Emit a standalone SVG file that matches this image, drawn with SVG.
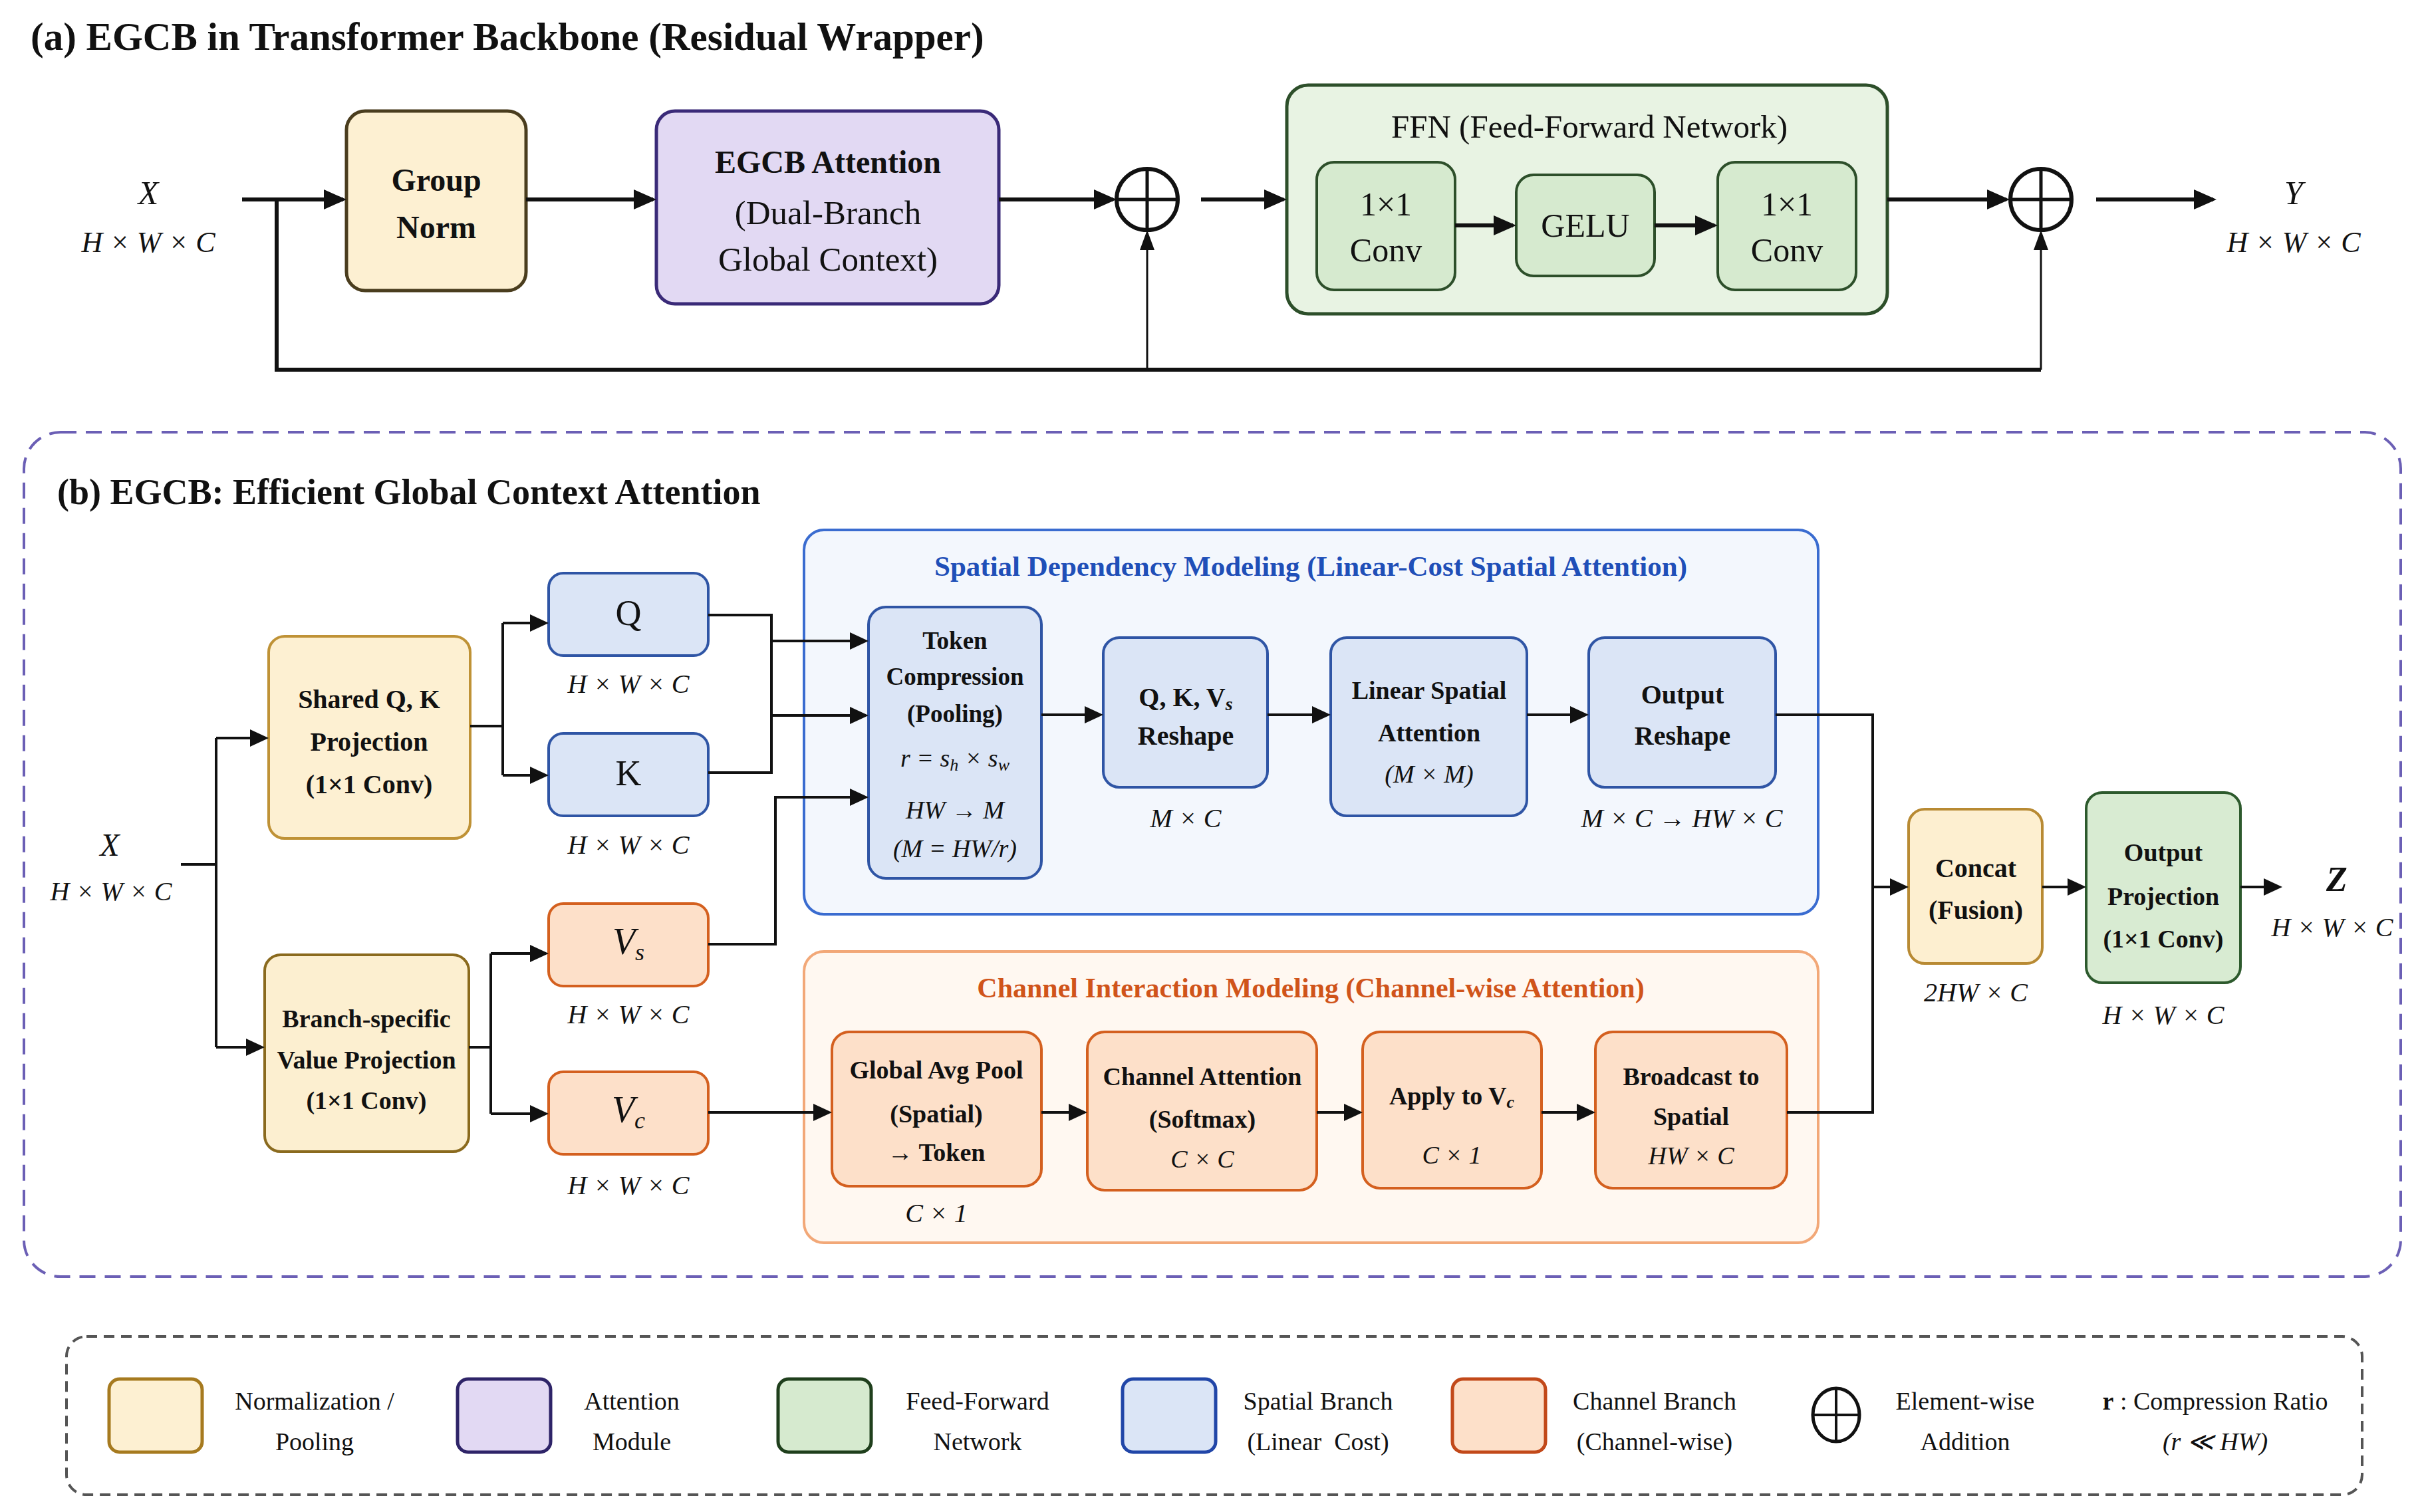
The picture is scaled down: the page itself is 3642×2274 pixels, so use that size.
<svg xmlns="http://www.w3.org/2000/svg" width="3642" height="2274" viewBox="0 0 3642 2274">
<style>
.t{font-family:"Liberation Serif","Times New Roman",serif;fill:#111;text-anchor:middle;dominant-baseline:central}
.b{font-weight:bold}
.i{font-style:italic}
.s{text-anchor:start}
.ln{fill:none;stroke:#111;stroke-width:4}
.lt{fill:none;stroke:#111;stroke-width:6}
.lv{fill:none;stroke:#111;stroke-width:3}
.yel{fill:#fdf0d2;stroke:#bf9236;stroke-width:4}
.pur{fill:#e2d9f3;stroke:#3a2a78;stroke-width:5}
.grn{fill:#d6eacf;stroke:#2d4f2a;stroke-width:4}
.blu{fill:#dbe5f6;stroke:#2f55a5;stroke-width:4}
.org{fill:#fde0c9;stroke:#d4601f;stroke-width:4}
.dim{font-size:40px}
</style>
<defs>
<marker id="ah" markerUnits="userSpaceOnUse" markerWidth="34" markerHeight="34" viewBox="0 0 34 34" refX="29" refY="17" orient="auto"><path d="M0,2 L34,17 L0,32 Z" fill="#111"/></marker>
<marker id="ab" markerUnits="userSpaceOnUse" markerWidth="28" markerHeight="26" viewBox="0 0 28 26" refX="24" refY="13" orient="auto"><path d="M0,0 L28,13 L0,26 Z" fill="#111"/></marker>
<marker id="av" markerUnits="userSpaceOnUse" markerWidth="30" markerHeight="22" viewBox="0 0 30 22" refX="26" refY="11" orient="auto"><path d="M0,0 L30,11 L0,22 Z" fill="#111"/></marker>
</defs>
<rect width="3642" height="2274" fill="#ffffff"/>

<!-- ===== (a) ===== -->
<text x="46" y="55" class="t b s" font-size="59">(a) EGCB in Transformer Backbone (Residual Wrapper)</text>

<g id="a-input">
<text x="223" y="290" class="t i" font-size="50">X</text>
<text x="223" y="364" class="t i" font-size="44">H × W × C</text>
</g>
<g id="a-groupnorm">
<rect x="521" y="167" width="270" height="270" rx="28" fill="#fdf0d2" stroke="#4a3d1e" stroke-width="5"/>
<text x="656" y="270" class="t b" font-size="48">Group</text>
<text x="656" y="341" class="t b" font-size="48">Norm</text>
</g>
<g id="a-egcb">
<rect x="987" y="167" width="515" height="290" rx="28" class="pur"/>
<text x="1245" y="243" class="t b" font-size="48">EGCB Attention</text>
<text x="1245" y="320" class="t" font-size="51">(Dual-Branch</text>
<text x="1245" y="390" class="t" font-size="51">Global Context)</text>
</g>
<g id="a-add1">
<circle cx="1725" cy="300" r="46" fill="#fff" stroke="#111" stroke-width="6"/>
<path d="M1679,300 H1771 M1725,254 V346" stroke="#111" stroke-width="5"/>
</g>
<g id="a-ffn">
<rect x="1935" y="128" width="903" height="344" rx="32" fill="#e8f3e3" stroke="#2d4f2a" stroke-width="5"/>
<text x="2390" y="190" class="t" font-size="49">FFN (Feed-Forward Network)</text>
</g>
<g id="a-conv1">
<rect x="1980" y="244" width="208" height="192" rx="26" class="grn"/>
<text x="2084" y="307" class="t" font-size="50">1×1</text>
<text x="2084" y="376" class="t" font-size="50">Conv</text>
</g>
<g id="a-gelu">
<rect x="2280" y="263" width="208" height="152" rx="26" class="grn"/>
<text x="2384" y="339" class="t" font-size="50">GELU</text>
</g>
<g id="a-conv2">
<rect x="2583" y="244" width="208" height="192" rx="26" class="grn"/>
<text x="2687" y="307" class="t" font-size="50">1×1</text>
<text x="2687" y="376" class="t" font-size="50">Conv</text>
</g>
<g id="a-add2">
<circle cx="3069" cy="300" r="46" fill="#fff" stroke="#111" stroke-width="6"/>
<path d="M3023,300 H3115 M3069,254 V346" stroke="#111" stroke-width="5"/>
</g>
<g id="a-output">
<text x="3449" y="290" class="t i" font-size="50">Y</text>
<text x="3449" y="364" class="t i" font-size="44">H × W × C</text>
</g>

<g id="a-connectors">
<path class="lt" d="M364,300 H516" marker-end="url(#ah)"/>
<path class="lt" d="M791,300 H982" marker-end="url(#ah)"/>
<path class="lt" d="M1502,300 H1674" marker-end="url(#ah)"/>
<path class="lt" d="M1806,300 H1930" marker-end="url(#ah)"/>
<path class="lt" d="M2188,339 H2275" marker-end="url(#ah)"/>
<path class="lt" d="M2488,339 H2578" marker-end="url(#ah)"/>
<path class="lt" d="M2838,300 H3017" marker-end="url(#ah)"/>
<path class="lt" d="M3152,300 H3328" marker-end="url(#ah)"/>
<path class="lt" d="M416,300 V556 H3069"/>
<path class="lv" d="M3069,556 V350" marker-end="url(#av)"/>
<path class="lv" d="M1725,556 V350" marker-end="url(#av)"/>
</g>

<!-- ===== (b) ===== -->
<rect x="36" y="650" width="3574" height="1270" rx="55" fill="none" stroke="#6b5fb5" stroke-width="4" stroke-dasharray="24 14"/>
<text x="86" y="740" class="t b s" font-size="54">(b) EGCB: Efficient Global Context Attention</text>

<g id="b-input">
<text x="165" y="1270" class="t i" font-size="48">X</text>
<text x="167" y="1340" class="t i dim">H × W × C</text>
</g>
<g id="b-shared">
<rect x="404" y="957" width="303" height="304" rx="24" class="yel"/>
<text x="555" y="1051" class="t b" font-size="40">Shared Q, K</text>
<text x="555" y="1115" class="t b" font-size="40">Projection</text>
<text x="555" y="1179" class="t b" font-size="40">(1×1 Conv)</text>
</g>
<g id="b-branch">
<rect x="398" y="1436" width="307" height="296" rx="24" fill="#fcefd0" stroke="#8a6a1e" stroke-width="4"/>
<text x="551" y="1532" class="t b" font-size="38">Branch-specific</text>
<text x="551" y="1594" class="t b" font-size="38">Value Projection</text>
<text x="551" y="1655" class="t b" font-size="38">(1×1 Conv)</text>
</g>
<g id="b-q">
<rect x="825" y="862" width="240" height="124" rx="22" class="blu"/>
<text x="945" y="922" class="t" font-size="54">Q</text>
<text x="945" y="1028" class="t i dim">H × W × C</text>
</g>
<g id="b-k">
<rect x="825" y="1103" width="240" height="124" rx="22" class="blu"/>
<text x="945" y="1163" class="t" font-size="54">K</text>
<text x="945" y="1270" class="t i dim">H × W × C</text>
</g>
<g id="b-vs">
<rect x="825" y="1359" width="240" height="124" rx="22" class="org"/>
<text x="945" y="1416" class="t i" font-size="56">V<tspan font-size="36" dy="16">s</tspan></text>
<text x="945" y="1525" class="t i dim">H × W × C</text>
</g>
<g id="b-vc">
<rect x="825" y="1612" width="240" height="124" rx="22" class="org"/>
<text x="945" y="1669" class="t i" font-size="56">V<tspan font-size="36" dy="16">c</tspan></text>
<text x="945" y="1782" class="t i dim">H × W × C</text>
</g>

<g id="b-spatial">
<rect x="1209" y="797" width="1525" height="578" rx="30" fill="#f3f7fd" stroke="#3a6cd0" stroke-width="4"/>
<text x="1971" y="851" class="t b" font-size="43" style="fill:#1f4fb8">Spatial Dependency Modeling (Linear-Cost Spatial Attention)</text>
</g>
<g id="b-token">
<rect x="1306" y="913" width="260" height="408" rx="26" class="blu"/>
<text x="1436" y="963" class="t b" font-size="37">Token</text>
<text x="1436" y="1017" class="t b" font-size="37">Compression</text>
<text x="1436" y="1073" class="t b" font-size="37">(Pooling)</text>
<text x="1436" y="1140" class="t i" font-size="38">r = s<tspan font-size="26" dy="10">h</tspan><tspan dy="-10"> × s</tspan><tspan font-size="26" dy="10">w</tspan></text>
<text x="1436" y="1218" class="t i" font-size="38">HW → M</text>
<text x="1436" y="1276" class="t i" font-size="38">(M = HW/r)</text>
</g>
<g id="b-qkv">
<rect x="1659" y="959" width="247" height="225" rx="24" class="blu"/>
<text x="1783" y="1048" class="t b" font-size="40">Q, K, V<tspan font-size="28" dy="10" font-style="italic">s</tspan></text>
<text x="1783" y="1106" class="t b" font-size="40">Reshape</text>
<text x="1783" y="1230" class="t i dim">M × C</text>
</g>
<g id="b-lsa">
<rect x="2001" y="959" width="295" height="268" rx="24" class="blu"/>
<text x="2149" y="1038" class="t b" font-size="38">Linear Spatial</text>
<text x="2149" y="1102" class="t b" font-size="38">Attention</text>
<text x="2149" y="1164" class="t i" font-size="38">(M × M)</text>
</g>
<g id="b-outreshape">
<rect x="2389" y="959" width="281" height="225" rx="24" class="blu"/>
<text x="2530" y="1044" class="t b" font-size="40">Output</text>
<text x="2530" y="1106" class="t b" font-size="40">Reshape</text>
<text x="2529" y="1230" class="t i dim">M × C → HW × C</text>
</g>

<g id="b-channel">
<rect x="1209" y="1431" width="1525" height="438" rx="30" fill="#fff8f1" stroke="#f2a878" stroke-width="4"/>
<text x="1971" y="1486" class="t b" font-size="42" style="fill:#d0541a">Channel Interaction Modeling (Channel-wise Attention)</text>
</g>
<g id="b-gap">
<rect x="1251" y="1552" width="315" height="232" rx="26" class="org"/>
<text x="1408" y="1609" class="t b" font-size="38">Global Avg Pool</text>
<text x="1408" y="1675" class="t b" font-size="38">(Spatial)</text>
<text x="1408" y="1733" class="t b" font-size="38">→ Token</text>
<text x="1408" y="1824" class="t i dim">C × 1</text>
</g>
<g id="b-ca">
<rect x="1635" y="1552" width="345" height="238" rx="26" class="org"/>
<text x="1808" y="1619" class="t b" font-size="38">Channel Attention</text>
<text x="1808" y="1683" class="t b" font-size="38">(Softmax)</text>
<text x="1808" y="1743" class="t i" font-size="38">C × C</text>
</g>
<g id="b-apply">
<rect x="2049" y="1552" width="269" height="235" rx="26" class="org"/>
<text x="2183" y="1648" class="t b" font-size="38">Apply to V<tspan font-size="26" dy="9" font-style="italic">c</tspan></text>
<text x="2183" y="1737" class="t i" font-size="38">C × 1</text>
</g>
<g id="b-broadcast">
<rect x="2399" y="1552" width="288" height="235" rx="26" class="org"/>
<text x="2543" y="1619" class="t b" font-size="38">Broadcast to</text>
<text x="2543" y="1679" class="t b" font-size="38">Spatial</text>
<text x="2543" y="1738" class="t i" font-size="38">HW × C</text>
</g>

<g id="b-concat">
<rect x="2870" y="1217" width="201" height="232" rx="24" fill="#fdefd0" stroke="#b88a33" stroke-width="4"/>
<text x="2971" y="1305" class="t b" font-size="40">Concat</text>
<text x="2971" y="1368" class="t b" font-size="40">(Fusion)</text>
<text x="2971" y="1492" class="t i dim">2HW × C</text>
</g>
<g id="b-outproj">
<rect x="3137" y="1192" width="232" height="286" rx="24" fill="#d8ebd2" stroke="#2d5a2d" stroke-width="4"/>
<text x="3253" y="1282" class="t b" font-size="38">Output</text>
<text x="3253" y="1348" class="t b" font-size="38">Projection</text>
<text x="3253" y="1412" class="t b" font-size="38">(1×1 Conv)</text>
<text x="3253" y="1526" class="t i dim">H × W × C</text>
</g>
<g id="b-output">
<text x="3514" y="1322" class="t b i" font-size="52">Z</text>
<text x="3507" y="1394" class="t i dim">H × W × C</text>
</g>

<g id="b-connectors">
<path class="ln" d="M272,1300 H325 M325,1110 V1575"/>
<path class="ln" d="M325,1110 H400" marker-end="url(#ab)"/>
<path class="ln" d="M325,1575 H394" marker-end="url(#ab)"/>
<path class="ln" d="M707,1092 H756 M756,937 V1166"/>
<path class="ln" d="M756,937 H821" marker-end="url(#ab)"/>
<path class="ln" d="M756,1166 H821" marker-end="url(#ab)"/>
<path class="ln" d="M705,1575 H738 M738,1434 V1675"/>
<path class="ln" d="M738,1434 H821" marker-end="url(#ab)"/>
<path class="ln" d="M738,1675 H821" marker-end="url(#ab)"/>
<path class="ln" d="M1065,925 H1160 V1162 H1065"/>
<path class="ln" d="M1160,964 H1302" marker-end="url(#ab)"/>
<path class="ln" d="M1160,1076 H1302" marker-end="url(#ab)"/>
<path class="ln" d="M1065,1420 H1166 V1199 H1302" marker-end="url(#ab)"/>
<path class="ln" d="M1566,1075 H1655" marker-end="url(#ab)"/>
<path class="ln" d="M1906,1075 H1997" marker-end="url(#ab)"/>
<path class="ln" d="M2296,1075 H2385" marker-end="url(#ab)"/>
<path class="ln" d="M2670,1075 H2816 V1673 H2687"/>
<path class="ln" d="M2816,1334 H2866" marker-end="url(#ab)"/>
<path class="ln" d="M1065,1673 H1247" marker-end="url(#ab)"/>
<path class="ln" d="M1566,1673 H1631" marker-end="url(#ab)"/>
<path class="ln" d="M1980,1673 H2045" marker-end="url(#ab)"/>
<path class="ln" d="M2318,1673 H2395" marker-end="url(#ab)"/>
<path class="ln" d="M3071,1334 H3133" marker-end="url(#ab)"/>
<path class="ln" d="M3369,1334 H3428" marker-end="url(#ab)"/>
</g>

<!-- ===== Legend ===== -->
<g id="legend">
<rect x="100" y="2010" width="3452" height="238" rx="30" fill="none" stroke="#555" stroke-width="4" stroke-dasharray="16 10"/>
<rect x="164" y="2074" width="140" height="110" rx="16" fill="#fdf0d2" stroke="#a67a1f" stroke-width="5"/>
<text x="473" y="2107" class="t" font-size="38">Normalization /</text>
<text x="473" y="2168" class="t" font-size="38">Pooling</text>
<rect x="688" y="2074" width="140" height="110" rx="16" fill="#e2d9f3" stroke="#2e2468" stroke-width="5"/>
<text x="950" y="2107" class="t" font-size="38">Attention</text>
<text x="950" y="2168" class="t" font-size="38">Module</text>
<rect x="1170" y="2074" width="140" height="110" rx="16" fill="#d6eacf" stroke="#1f3f1c" stroke-width="5"/>
<text x="1470" y="2107" class="t" font-size="38">Feed-Forward</text>
<text x="1470" y="2168" class="t" font-size="38">Network</text>
<rect x="1688" y="2074" width="140" height="110" rx="16" fill="#dbe5f6" stroke="#2146a8" stroke-width="5"/>
<text x="1982" y="2107" class="t" font-size="38">Spatial Branch</text>
<text x="1982" y="2168" class="t" font-size="38" xml:space="preserve">(Linear  Cost)</text>
<rect x="2184" y="2074" width="140" height="110" rx="16" fill="#fde0c9" stroke="#c2491a" stroke-width="5"/>
<text x="2488" y="2107" class="t" font-size="38">Channel Branch</text>
<text x="2488" y="2168" class="t" font-size="38">(Channel-wise)</text>
<ellipse cx="2761" cy="2128" rx="35" ry="40" fill="#fff" stroke="#111" stroke-width="5"/>
<path d="M2726,2128 H2796 M2761,2088 V2168" stroke="#111" stroke-width="4"/>
<text x="2955" y="2107" class="t" font-size="38">Element-wise</text>
<text x="2955" y="2168" class="t" font-size="38">Addition</text>
<text x="3331" y="2107" class="t" font-size="38"><tspan font-weight="bold">r</tspan> : Compression Ratio</text>
<text x="3331" y="2168" class="t i" font-size="38">(r ≪ HW)</text>
</g>
</svg>
